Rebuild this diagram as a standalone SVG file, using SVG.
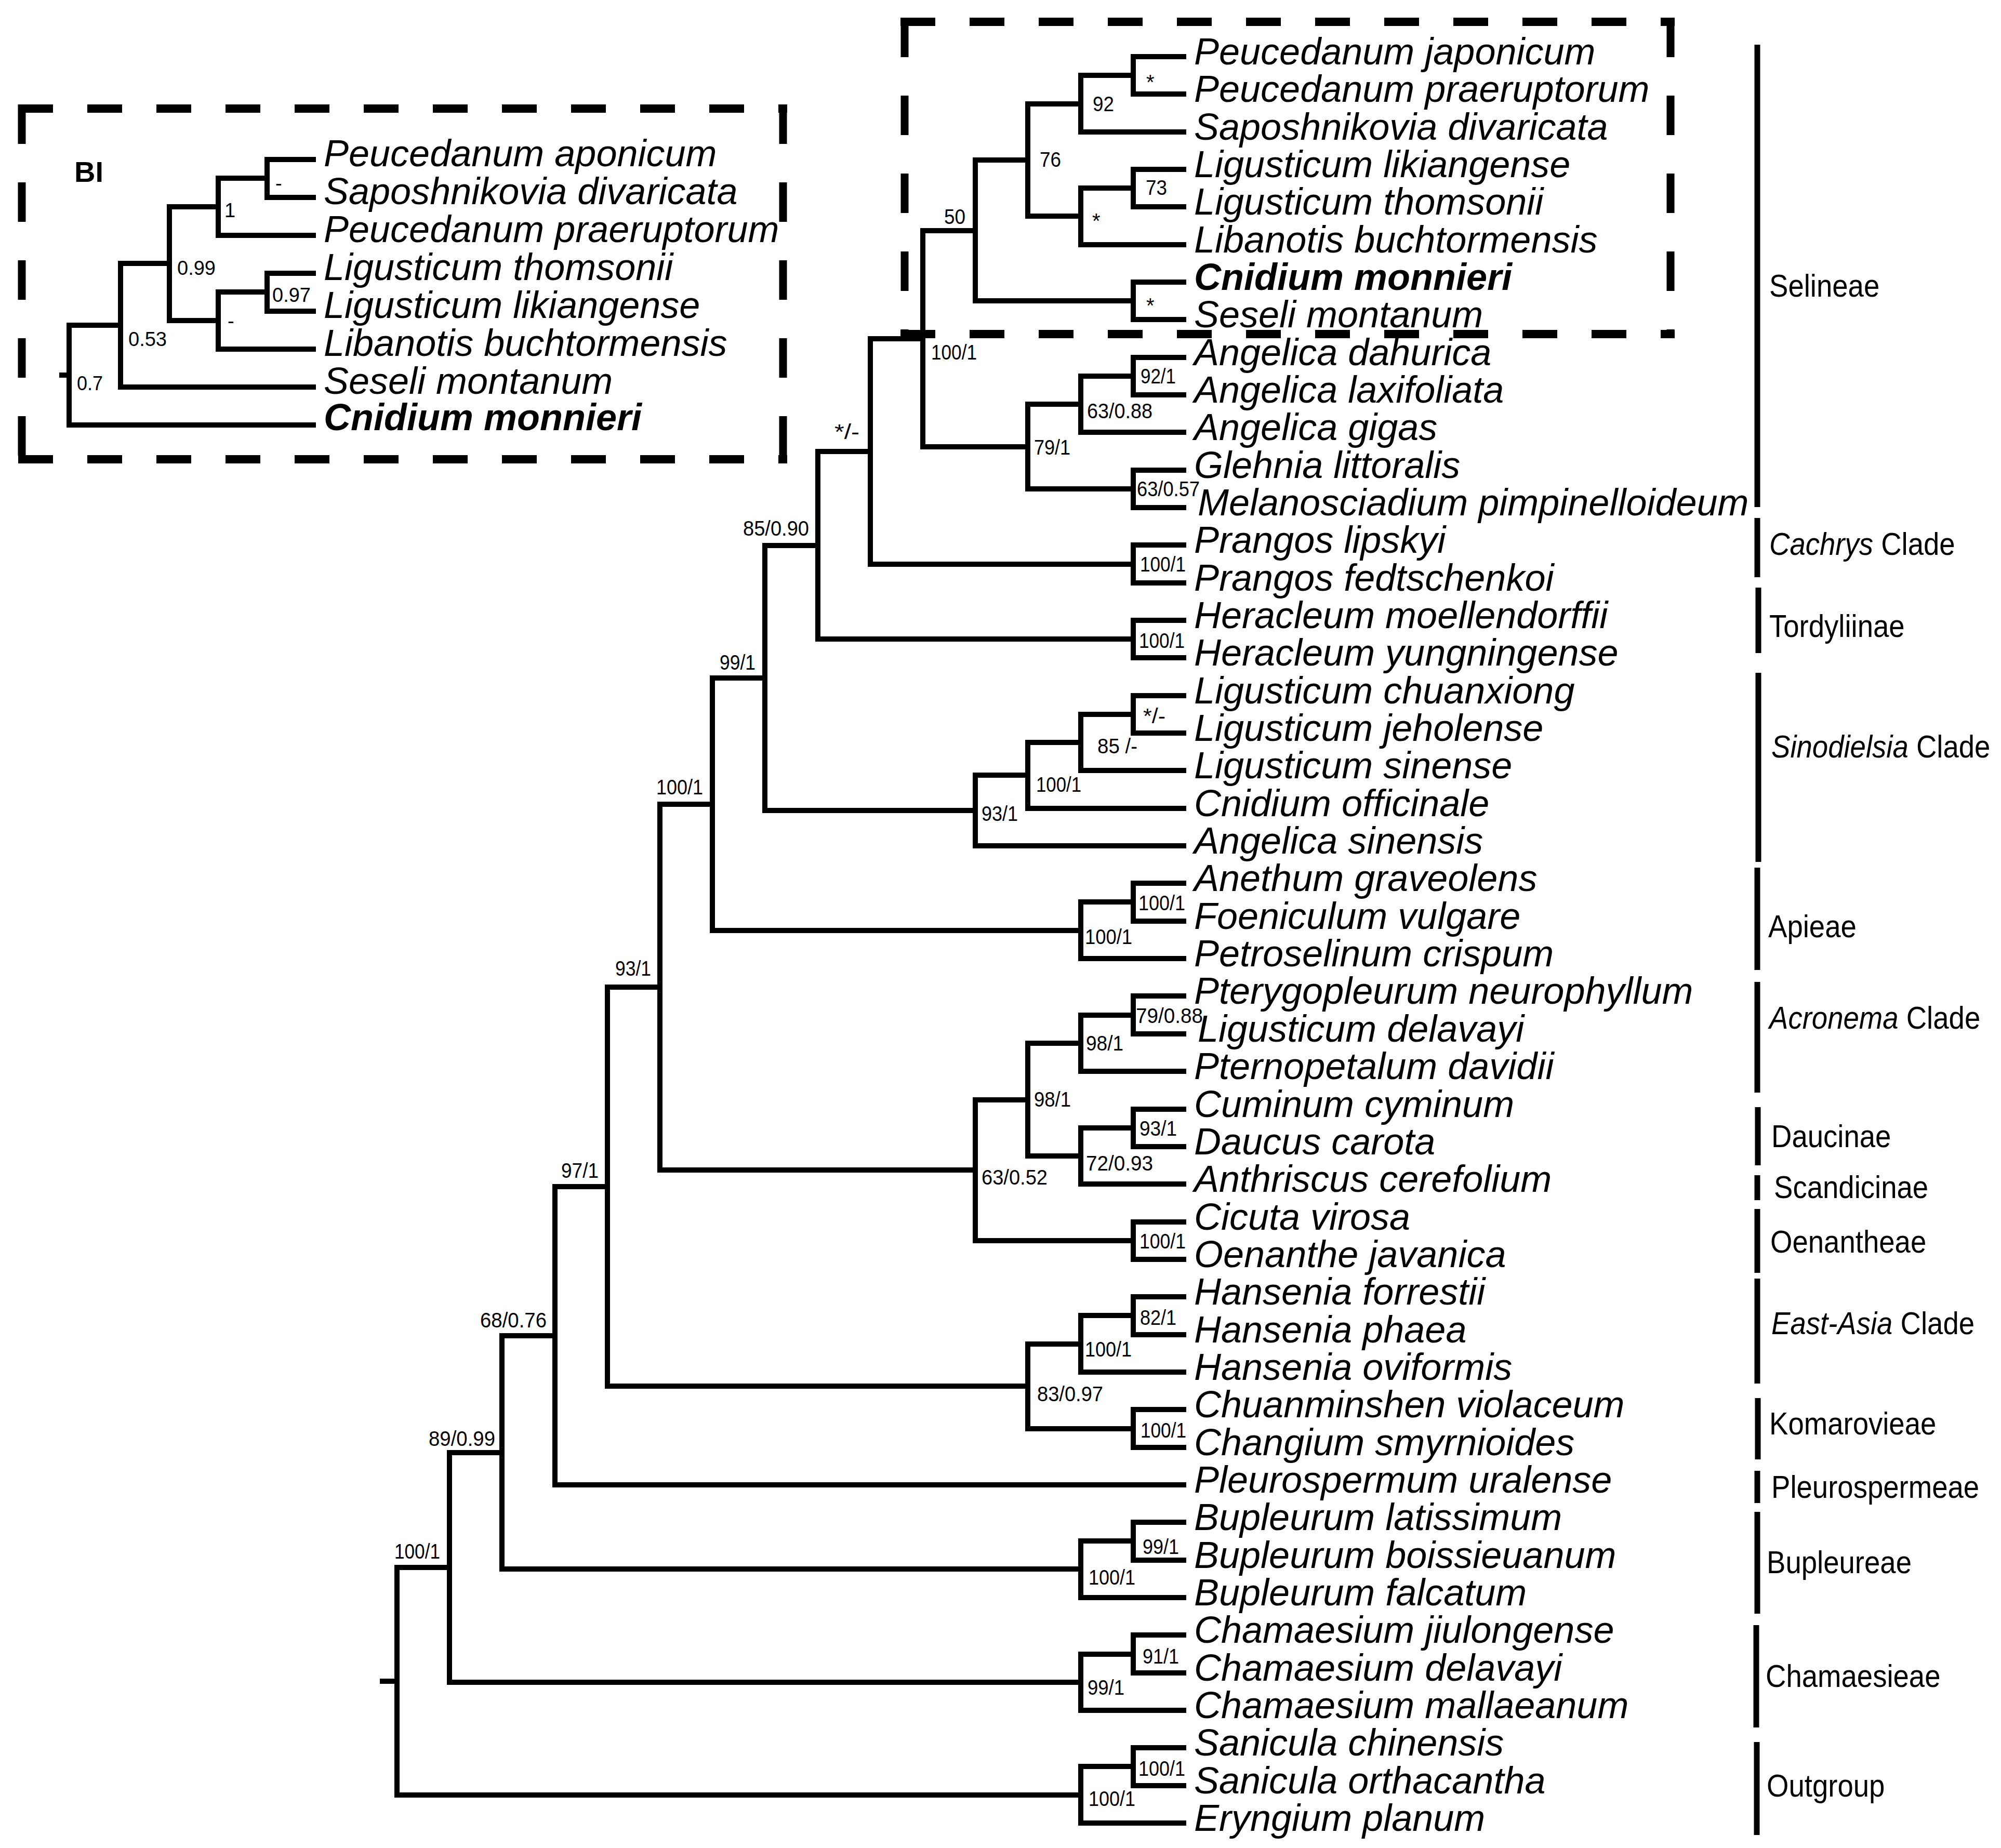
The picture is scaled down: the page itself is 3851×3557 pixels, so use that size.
<svg xmlns="http://www.w3.org/2000/svg" width="3851" height="3557" viewBox="0 0 3851 3557">
<style>
.br{fill:none;stroke:#000;stroke-width:10;stroke-linejoin:miter;stroke-linecap:butt}
.sp{font-family:"Liberation Sans",Arial,sans-serif;font-style:italic;font-size:72px;fill:#000}
.bd{font-weight:bold}
.su{font-family:"Liberation Sans",Arial,sans-serif;font-size:40px;fill:#000}
.sb{font-family:"Liberation Sans",Arial,sans-serif;font-size:38px;fill:#000}
.cl{font-family:"Liberation Sans",Arial,sans-serif;font-size:62px;fill:#000}
.it{font-style:italic}
.bar{stroke:#000;stroke-width:11;fill:none}
.dh{stroke:#000;stroke-width:16;stroke-dasharray:67 66;fill:none}
.dv{stroke:#000;stroke-width:15;stroke-dasharray:76 74;fill:none}
</style>
<rect width="3851" height="3557" fill="#fff"/>

<!-- dashed boxes -->
<g id="boxes">
<line class="dh" x1="35" y1="209" x2="1515" y2="209"/>
<line class="dh" x1="35" y1="884" x2="1515" y2="884"/>
<line class="dv" x1="42" y1="201" x2="42" y2="892"/>
<line class="dv" x1="1507" y1="201" x2="1507" y2="892"/>
<line class="dh" x1="1733" y1="42" x2="3223" y2="42"/>
<line class="dh" x1="1733" y1="643" x2="3223" y2="643"/>
<line class="dv" x1="1741" y1="34" x2="1741" y2="651"/>
<line class="dv" x1="3215" y1="34" x2="3215" y2="651"/>
</g>

<!-- connectors -->
<g id="connectors" class="br">
<path d="M2283 109H2181V181H2283"/>
<path d="M2181 145H2080V254H2283"/>
<path d="M2283 326H2181V398H2283"/>
<path d="M2181 362H2080V471H2283"/>
<path d="M2080 200H1978V416H2080"/>
<path d="M2283 543H2181V615H2283"/>
<path d="M1978 308H1877V579H2181"/>
<path d="M2283 688H2181V760H2283"/>
<path d="M2181 724H2080V832H2283"/>
<path d="M2283 905H2181V977H2283"/>
<path d="M2080 778H1978V941H2181"/>
<path d="M1877 444H1776V860H1978"/>
<path d="M2283 1049H2181V1122H2283"/>
<path d="M1776 652H1675V1086H2181"/>
<path d="M2283 1194H2181V1266H2283"/>
<path d="M1675 869H1574V1230H2181"/>
<path d="M2283 1339H2181V1411H2283"/>
<path d="M2181 1375H2080V1483H2283"/>
<path d="M2080 1429H1978V1556H2283"/>
<path d="M1978 1492H1877V1628H2283"/>
<path d="M1574 1050H1472V1560H1877"/>
<path d="M2283 1700H2181V1773H2283"/>
<path d="M2181 1736H2080V1845H2283"/>
<path d="M1472 1305H1371V1791H2080"/>
<path d="M2283 1917H2181V1990H2283"/>
<path d="M2181 1954H2080V2062H2283"/>
<path d="M2283 2135H2181V2207H2283"/>
<path d="M2181 2171H2080V2279H2283"/>
<path d="M2080 2008H1978V2225H2080"/>
<path d="M2283 2352H2181V2424H2283"/>
<path d="M1978 2117H1877V2388H2181"/>
<path d="M1371 1548H1270V2252H1877"/>
<path d="M2283 2496H2181V2569H2283"/>
<path d="M2181 2532H2080V2641H2283"/>
<path d="M2283 2713H2181V2786H2283"/>
<path d="M2080 2587H1978V2750H2181"/>
<path d="M1270 1900H1169V2668H1978"/>
<path d="M1169 2284H1068V2858H2283"/>
<path d="M2283 2930H2181V3003H2283"/>
<path d="M2181 2966H2080V3075H2283"/>
<path d="M1068 2571H966V3020H2080"/>
<path d="M2283 3147H2181V3220H2283"/>
<path d="M2181 3184H2080V3292H2283"/>
<path d="M966 2796H865V3238H2080"/>
<path d="M2283 3364H2181V3437H2283"/>
<path d="M2181 3400H2080V3509H2283"/>
<path d="M865 3017H764V3455H2080"/>
<path d="M731 3236H764"/>
<!-- BI inset -->
<path d="M608 307H514V380H608"/>
<path d="M514 343H420V453H608"/>
<path d="M608 526H514V599H608"/>
<path d="M514 562H420V672H608"/>
<path d="M420 398H326V617H420"/>
<path d="M326 507H232V745H608"/>
<path d="M232 626H133V818H608"/>
<path d="M114 722H133"/>
</g>

<!-- main tree taxa -->
<g id="taxa">
<g id="t01"><text class="sp" x="2298" y="124">Peucedanum japonicum</text></g>
<g id="t02"><text class="sp" x="2298" y="196">Peucedanum praeruptorum</text></g>
<g id="t03"><text class="sp" x="2298" y="269">Saposhnikovia divaricata</text></g>
<g id="t04"><text class="sp" x="2298" y="341">Ligusticum likiangense</text></g>
<g id="t05"><text class="sp" x="2298" y="413">Ligusticum thomsonii</text></g>
<g id="t06"><text class="sp" x="2298" y="486">Libanotis buchtormensis</text></g>
<g id="t07"><text class="sp bd" x="2298" y="558">Cnidium monnieri</text></g>
<g id="t08"><text class="sp" x="2298" y="630">Seseli montanum</text></g>
<g id="t09"><text class="sp" x="2298" y="703">Angelica dahurica</text></g>
<g id="t10"><text class="sp" x="2298" y="775">Angelica laxifoliata</text></g>
<g id="t11"><text class="sp" x="2298" y="847">Angelica gigas</text></g>
<g id="t12"><text class="sp" x="2298" y="920">Glehnia littoralis</text></g>
<g id="t13"><text class="sp" x="2305" y="992">Melanosciadium pimpinelloideum</text></g>
<g id="t14"><text class="sp" x="2298" y="1064">Prangos lipskyi</text></g>
<g id="t15"><text class="sp" x="2298" y="1137">Prangos fedtschenkoi</text></g>
<g id="t16"><text class="sp" x="2298" y="1209">Heracleum moellendorffii</text></g>
<g id="t17"><text class="sp" x="2298" y="1281">Heracleum yungningense</text></g>
<g id="t18"><text class="sp" x="2298" y="1354">Ligusticum chuanxiong</text></g>
<g id="t19"><text class="sp" x="2298" y="1426">Ligusticum jeholense</text></g>
<g id="t20"><text class="sp" x="2298" y="1498">Ligusticum sinense</text></g>
<g id="t21"><text class="sp" x="2298" y="1571">Cnidium officinale</text></g>
<g id="t22"><text class="sp" x="2298" y="1643">Angelica sinensis</text></g>
<g id="t23"><text class="sp" x="2298" y="1715">Anethum graveolens</text></g>
<g id="t24"><text class="sp" x="2298" y="1788">Foeniculum vulgare</text></g>
<g id="t25"><text class="sp" x="2298" y="1860">Petroselinum crispum</text></g>
<g id="t26"><text class="sp" x="2298" y="1932">Pterygopleurum neurophyllum</text></g>
<g id="t27"><text class="sp" x="2305" y="2005">Ligusticum delavayi</text></g>
<g id="t28"><text class="sp" x="2298" y="2077">Pternopetalum davidii</text></g>
<g id="t29"><text class="sp" x="2298" y="2150">Cuminum cyminum</text></g>
<g id="t30"><text class="sp" x="2298" y="2222">Daucus carota</text></g>
<g id="t31"><text class="sp" x="2298" y="2294">Anthriscus cerefolium</text></g>
<g id="t32"><text class="sp" x="2298" y="2367">Cicuta virosa</text></g>
<g id="t33"><text class="sp" x="2298" y="2439">Oenanthe javanica</text></g>
<g id="t34"><text class="sp" x="2298" y="2511">Hansenia forrestii</text></g>
<g id="t35"><text class="sp" x="2298" y="2584">Hansenia phaea</text></g>
<g id="t36"><text class="sp" x="2298" y="2656">Hansenia oviformis</text></g>
<g id="t37"><text class="sp" x="2298" y="2728">Chuanminshen violaceum</text></g>
<g id="t38"><text class="sp" x="2298" y="2801">Changium smyrnioides</text></g>
<g id="t39"><text class="sp" x="2298" y="2873">Pleurospermum uralense</text></g>
<g id="t40"><text class="sp" x="2298" y="2945">Bupleurum latissimum</text></g>
<g id="t41"><text class="sp" x="2298" y="3018">Bupleurum boissieuanum</text></g>
<g id="t42"><text class="sp" x="2298" y="3090">Bupleurum falcatum</text></g>
<g id="t43"><text class="sp" x="2298" y="3162">Chamaesium jiulongense</text></g>
<g id="t44"><text class="sp" x="2298" y="3235">Chamaesium delavayi</text></g>
<g id="t45"><text class="sp" x="2298" y="3307">Chamaesium mallaeanum</text></g>
<g id="t46"><text class="sp" x="2298" y="3379">Sanicula chinensis</text></g>
<g id="t47"><text class="sp" x="2298" y="3452">Sanicula orthacantha</text></g>
<g id="t48"><text class="sp" x="2298" y="3524">Eryngium planum</text></g>
</g>

<!-- BI inset taxa -->
<g id="bi-taxa">
<g id="bi-label"><text x="143" y="350" font-family="Liberation Sans, Arial, sans-serif" font-weight="bold" font-size="56">BI</text></g>
<g id="b1"><text class="sp" x="623" y="320">Peucedanum aponicum</text></g>
<g id="b2"><text class="sp" x="623" y="393">Saposhnikovia divaricata</text></g>
<g id="b3"><text class="sp" x="623" y="466">Peucedanum praeruptorum</text></g>
<g id="b4"><text class="sp" x="623" y="539">Ligusticum thomsonii</text></g>
<g id="b5"><text class="sp" x="623" y="612">Ligusticum likiangense</text></g>
<g id="b6"><text class="sp" x="623" y="685">Libanotis buchtormensis</text></g>
<g id="b7"><text class="sp" x="623" y="758">Seseli montanum</text></g>
<g id="b8"><text class="sp bd" x="623" y="828">Cnidium monnieri</text></g>
</g>

<!-- BI support values -->
<g id="bi-support" class="sb">
<text x="530" y="366">-</text>
<text x="432" y="418">1</text>
<text x="341" y="529" textLength="74" lengthAdjust="spacingAndGlyphs">0.99</text>
<text x="438" y="631">-</text>
<text x="524" y="581" textLength="74" lengthAdjust="spacingAndGlyphs">0.97</text>
<text x="247" y="666" textLength="74" lengthAdjust="spacingAndGlyphs">0.53</text>
<text x="148" y="751" textLength="50" lengthAdjust="spacingAndGlyphs">0.7</text>
</g>

<!-- main support values -->
<g id="support" class="su">
<text x="2206" y="172">*</text>
<text x="2103" y="214" textLength="41" lengthAdjust="spacingAndGlyphs">92</text>
<text x="2001" y="321" textLength="41" lengthAdjust="spacingAndGlyphs">76</text>
<text x="2205" y="375" textLength="41" lengthAdjust="spacingAndGlyphs">73</text>
<text x="2102" y="439">*</text>
<text x="1817" y="431" textLength="41" lengthAdjust="spacingAndGlyphs">50</text>
<text x="2206" y="602">*</text>
<text x="1792" y="692" textLength="88" lengthAdjust="spacingAndGlyphs">100/1</text>
<text x="2195" y="738" textLength="68" lengthAdjust="spacingAndGlyphs">92/1</text>
<text x="2092" y="805" textLength="126" lengthAdjust="spacingAndGlyphs">63/0.88</text>
<text x="1990" y="875" textLength="70" lengthAdjust="spacingAndGlyphs">79/1</text>
<text x="2188" y="955" textLength="121" lengthAdjust="spacingAndGlyphs">63/0.57</text>
<text x="1606" y="845" textLength="48" lengthAdjust="spacingAndGlyphs">*/-</text>
<text x="1430" y="1031" textLength="127" lengthAdjust="spacingAndGlyphs">85/0.90</text>
<text x="2194" y="1100" textLength="88" lengthAdjust="spacingAndGlyphs">100/1</text>
<text x="2192" y="1247" textLength="88" lengthAdjust="spacingAndGlyphs">100/1</text>
<text x="1385" y="1289" textLength="69" lengthAdjust="spacingAndGlyphs">99/1</text>
<text x="2200" y="1392" textLength="43" lengthAdjust="spacingAndGlyphs">*/-</text>
<text x="2112" y="1450" textLength="77" lengthAdjust="spacingAndGlyphs">85 /-</text>
<text x="1994" y="1524" textLength="87" lengthAdjust="spacingAndGlyphs">100/1</text>
<text x="1889" y="1580" textLength="70" lengthAdjust="spacingAndGlyphs">93/1</text>
<text x="1263" y="1529" textLength="90" lengthAdjust="spacingAndGlyphs">100/1</text>
<text x="2191" y="1752" textLength="90" lengthAdjust="spacingAndGlyphs">100/1</text>
<text x="2088" y="1817" textLength="91" lengthAdjust="spacingAndGlyphs">100/1</text>
<text x="1184" y="1878" textLength="69" lengthAdjust="spacingAndGlyphs">93/1</text>
<text x="2186" y="1969" textLength="129" lengthAdjust="spacingAndGlyphs">79/0.88</text>
<text x="2090" y="2022" textLength="72" lengthAdjust="spacingAndGlyphs">98/1</text>
<text x="1990" y="2130" textLength="71" lengthAdjust="spacingAndGlyphs">98/1</text>
<text x="2193" y="2186" textLength="72" lengthAdjust="spacingAndGlyphs">93/1</text>
<text x="2090" y="2253" textLength="129" lengthAdjust="spacingAndGlyphs">72/0.93</text>
<text x="1889" y="2280" textLength="127" lengthAdjust="spacingAndGlyphs">63/0.52</text>
<text x="1080" y="2267" textLength="72" lengthAdjust="spacingAndGlyphs">97/1</text>
<text x="2193" y="2403" textLength="89" lengthAdjust="spacingAndGlyphs">100/1</text>
<text x="2194" y="2550" textLength="70" lengthAdjust="spacingAndGlyphs">82/1</text>
<text x="2088" y="2611" textLength="90" lengthAdjust="spacingAndGlyphs">100/1</text>
<text x="1996" y="2697" textLength="127" lengthAdjust="spacingAndGlyphs">83/0.97</text>
<text x="2195" y="2767" textLength="88" lengthAdjust="spacingAndGlyphs">100/1</text>
<text x="924" y="2555" textLength="128" lengthAdjust="spacingAndGlyphs">68/0.76</text>
<text x="825" y="2783" textLength="128" lengthAdjust="spacingAndGlyphs">89/0.99</text>
<text x="2199" y="2991" textLength="70" lengthAdjust="spacingAndGlyphs">99/1</text>
<text x="2095" y="3050" textLength="90" lengthAdjust="spacingAndGlyphs">100/1</text>
<text x="2199" y="3202" textLength="70" lengthAdjust="spacingAndGlyphs">91/1</text>
<text x="2093" y="3262" textLength="71" lengthAdjust="spacingAndGlyphs">99/1</text>
<text x="2191" y="3418" textLength="90" lengthAdjust="spacingAndGlyphs">100/1</text>
<text x="2095" y="3476" textLength="90" lengthAdjust="spacingAndGlyphs">100/1</text>
<text x="759" y="3000" textLength="88" lengthAdjust="spacingAndGlyphs">100/1</text>
</g>

<!-- clade bars -->
<g id="clade-bars" class="bar">
<line x1="3382" y1="86" x2="3382" y2="976"/>
<line x1="3382" y1="997" x2="3382" y2="1111"/>
<line x1="3384" y1="1131" x2="3384" y2="1257"/>
<line x1="3384" y1="1295" x2="3384" y2="1659"/>
<line x1="3382" y1="1670" x2="3382" y2="1867"/>
<line x1="3382" y1="1890" x2="3382" y2="2103"/>
<line x1="3383" y1="2131" x2="3383" y2="2243"/>
<line x1="3382" y1="2262" x2="3382" y2="2310"/>
<line x1="3382" y1="2327" x2="3382" y2="2450"/>
<line x1="3382" y1="2461" x2="3382" y2="2663"/>
<line x1="3383" y1="2691" x2="3383" y2="2809"/>
<line x1="3382" y1="2831" x2="3382" y2="2893"/>
<line x1="3382" y1="2910" x2="3382" y2="3106"/>
<line x1="3380" y1="3128" x2="3380" y2="3325"/>
<line x1="3381" y1="3353" x2="3381" y2="3532"/>
</g>

<!-- clade labels -->
<g id="clade-labels" class="cl">
<g id="c-selineae"><text transform="translate(3405 571) scale(0.88 1)">Selineae</text></g>
<g id="c-cachrys"><text transform="translate(3405 1068) scale(0.88 1)"><tspan class="it">Cachrys</tspan> Clade</text></g>
<g id="c-tordyliinae"><text transform="translate(3405 1226) scale(0.88 1)">Tordyliinae</text></g>
<g id="c-sinodielsia"><text transform="translate(3409 1458) scale(0.88 1)"><tspan class="it">Sinodielsia</tspan> Clade</text></g>
<g id="c-apieae"><text transform="translate(3403 1804) scale(0.88 1)">Apieae</text></g>
<g id="c-acronema"><text transform="translate(3405 1980) scale(0.88 1)"><tspan class="it">Acronema</tspan> Clade</text></g>
<g id="c-daucinae"><text transform="translate(3409 2208) scale(0.88 1)">Daucinae</text></g>
<g id="c-scandicinae"><text transform="translate(3414 2306) scale(0.88 1)">Scandicinae</text></g>
<g id="c-oenantheae"><text transform="translate(3407 2411) scale(0.88 1)">Oenantheae</text></g>
<g id="c-eastasia"><text transform="translate(3409 2568) scale(0.88 1)"><tspan class="it">East-Asia</tspan> Clade</text></g>
<g id="c-komarovieae"><text transform="translate(3405 2761) scale(0.88 1)">Komarovieae</text></g>
<g id="c-pleurospermeae"><text transform="translate(3409 2883) scale(0.88 1)">Pleurospermeae</text></g>
<g id="c-bupleureae"><text transform="translate(3400 3028) scale(0.88 1)">Bupleureae</text></g>
<g id="c-chamaesieae"><text transform="translate(3398 3247) scale(0.88 1)">Chamaesieae</text></g>
<g id="c-outgroup"><text transform="translate(3400 3458) scale(0.88 1)">Outgroup</text></g>
</g>
</svg>
